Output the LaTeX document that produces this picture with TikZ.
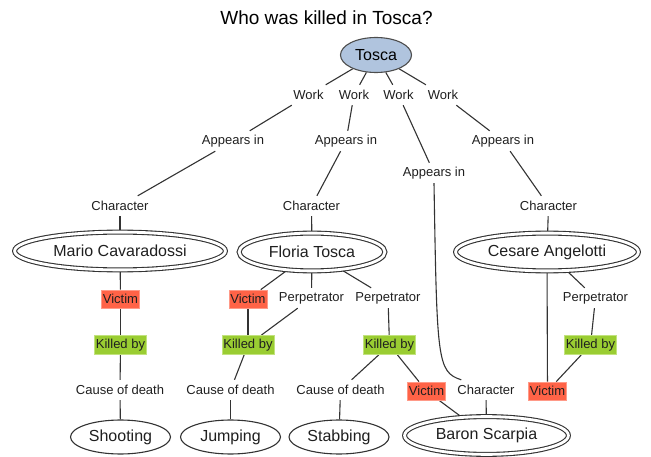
\documentclass[tikz,border=0pt]{standalone}
\usepackage{fontspec}
\setmainfont{Liberation Sans}
\usetikzlibrary{shapes.geometric,backgrounds}
\definecolor{edgegray}{HTML}{333333}
\definecolor{victimred}{HTML}{FF6347}
\definecolor{victimedge}{HTML}{FF9A88}
\definecolor{killgreen}{HTML}{9ACD32}
\definecolor{killedge}{HTML}{C2E27E}
\definecolor{workblue}{HTML}{B0C4DE}
\definecolor{workedge}{HTML}{4D4D4D}
\begin{document}
\begin{tikzpicture}[x=1pt,y=-1pt,
  lbl/.style={font=\fontsize{13}{15}\selectfont, inner xsep=2pt, inner ysep=0pt,
              minimum height=20pt, text=black!88},
  victim/.style={lbl, fill=victimred, draw=victimedge, line width=0.8pt,
                 minimum height=18pt, inner xsep=1.5pt},
  killed/.style={lbl, fill=killgreen, draw=killedge, line width=0.8pt,
                 minimum height=19pt, inner xsep=1.5pt},
  person/.style={ellipse, draw=edgegray, line width=1.1pt, double, double distance=2.8pt,
                 inner sep=0pt, minimum height=37.8pt, text=black!88,
                 font=\fontsize{16}{18}\selectfont},
  cause/.style={ellipse, draw=edgegray, line width=1.1pt, inner sep=0pt, fill=white,
                minimum width=100pt, minimum height=34pt, text=black!88,
                font=\fontsize{16}{18}\selectfont},
  link/.style={draw=edgegray, line width=1.1pt}
]
\useasboundingbox (0,0) rectangle (651,457);

% heading
\node[font=\fontsize{19}{21}\selectfont] (title) at (326.5,18) {Who was killed in Tosca?};

% the opera
\node[ellipse, draw=workedge, fill=workblue, line width=1.1pt, inner sep=0pt,
      minimum width=71pt, minimum height=35pt, font=\fontsize{16}{18}\selectfont]
      (tosca) at (376,55) {Tosca};

\node[lbl] (w1) at (308.5,95) {Work};
\node[lbl] (w2) at (354,95) {Work};
\node[lbl] (w3) at (398.5,95) {Work};
\node[lbl] (w4) at (443,95) {Work};

\node[lbl] (ap1) at (233,141) {Appears in};
\node[lbl] (ap2) at (346,141) {Appears in};
\node[lbl] (ap3) at (434,173) {Appears in};
\node[lbl] (ap4) at (503,141) {Appears in};

\node[lbl] (ch1) at (120,206) {Character};
\node[lbl] (ch2) at (311.5,206) {Character};
\node[lbl] (ch4) at (548.5,206) {Character};

% characters
\node[person, minimum width=210.8pt] (mario)  at (120,251) {Mario Cavaradossi};
\node[person, minimum width=145.8pt] (floria) at (312,252) {Floria Tosca};
\node[person, minimum width=182.8pt] (cesare) at (547,252) {Cesare Angelotti};
\node[person, minimum width=163.8pt] (baron)  at (486.5,435.5) {Baron Scarpia};

% roles
\node[victim] (vi1) at (120.5,299) {Victim};
\node[victim] (vi2) at (248,299) {Victim};
\node[lbl]    (pe1) at (311.5,298) {Perpetrator};
\node[lbl]    (pe2) at (388,298) {Perpetrator};
\node[lbl]    (pe3) at (595.5,298) {Perpetrator};

\node[killed] (ki1) at (120.5,345) {Killed by};
\node[killed] (ki2) at (248,345) {Killed by};
\node[killed] (ki3) at (389.5,345) {Killed by};
\node[killed] (ki4) at (590.5,345) {Killed by};

\node[lbl]    (ca1) at (120,390) {Cause of death};
\node[lbl]    (ca2) at (230.5,390) {Cause of death};
\node[lbl]    (ca3) at (340.5,390) {Cause of death};
\node[victim] (vi3) at (426.5,391) {Victim};
\node[lbl]    (chB) at (486,390) {Character};
\node[victim] (vi4) at (547.5,391) {Victim};

% causes of death
\node[cause] (shoot) at (120.5,437) {Shooting};
\node[cause] (jump)  at (230.5,437) {Jumping};
\node[cause] (stab)  at (339,437)   {Stabbing};

\begin{scope}[on background layer]
  \draw[link] (tosca) -- (w1);
  \draw[link] (tosca) -- (w2);
  \draw[link] (tosca) -- (w3);
  \draw[link] (tosca) -- (w4);
  \draw[link] (w1) -- (ap1);
  \draw[link] (w2) -- (ap2);
  \draw[link] (w3) -- (ap3);
  \draw[link] (w4) -- (ap4);
  \draw[link] (ap1) -- (ch1);
  \draw[link] (ap2) -- (ch2);
  \draw[link] (ap4) -- (ch4);
  \draw[link] (ap3.south) .. controls (437,360) and (437,372) .. ([xshift=6pt]chB.north west);
  \draw[link] (ch1) -- (mario);
  \draw[link] (ch2) -- (floria);
  \draw[link] (ch4) -- (cesare);
  \draw[link] (chB) -- (baron);
  % Mario
  \draw[link] (mario) -- (vi1);
  \draw[link] (vi1) -- (ki1);
  \draw[link] (ki1) -- (ca1);
  \draw[link] (ca1) -- (shoot);
  % Floria
  \draw[link] (floria) -- (vi2);
  \draw[link] (floria) -- (pe1);
  \draw[link] (floria) -- (pe2);
  \draw[link] (vi2) -- (ki2);
  \draw[link] (pe1) -- (ki2);
  \draw[link] (ki2) -- (ca2);
  \draw[link] (ca2) -- (jump);
  \draw[link] (pe2) -- (ki3);
  \draw[link] (ki3) -- (ca3);
  \draw[link] (ki3) -- (vi3);
  \draw[link] (ca3) -- (stab);
  \draw[link] (vi3) -- (baron);
  % Cesare
  \draw[link] (cesare) -- (vi4);
  \draw[link] (cesare) -- (pe3);
  \draw[link] (pe3) -- (ki4);
  \draw[link] (ki4) -- (vi4);
\end{scope}
\end{tikzpicture}
\end{document}
